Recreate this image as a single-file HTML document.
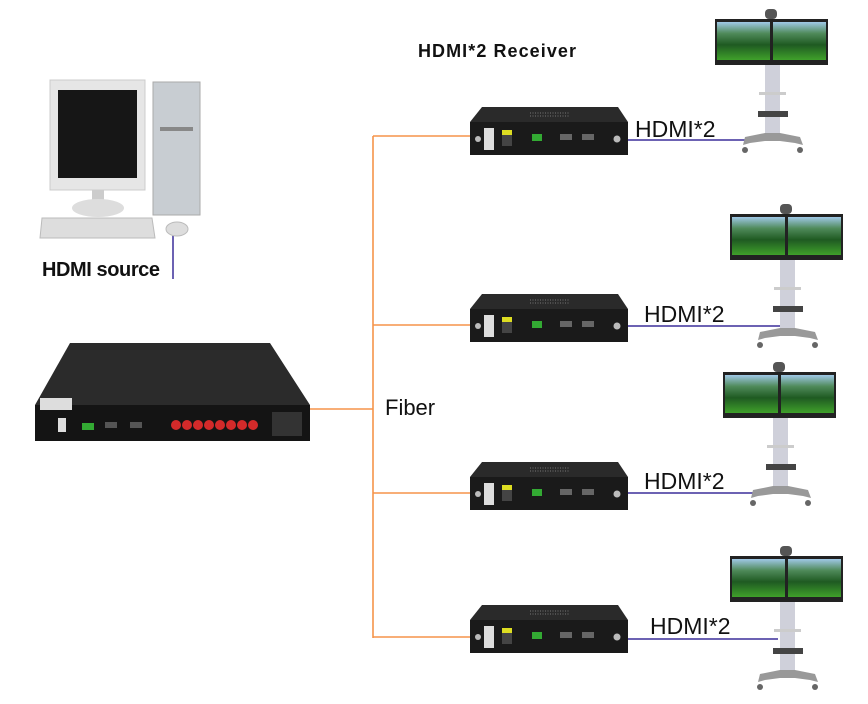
<!DOCTYPE html>
<html><head><meta charset="utf-8"><style>
html,body{margin:0;padding:0;background:#fff;}
svg{display:block}
text{font-family:"Liberation Sans",sans-serif;}
</style></head><body>
<svg width="868" height="704" viewBox="0 0 868 704" xmlns="http://www.w3.org/2000/svg">
<defs>
<linearGradient id="scr" x1="0" y1="0" x2="0" y2="1">
<stop offset="0" stop-color="#9fc8e6"/><stop offset="0.3" stop-color="#4f8a5a"/><stop offset="0.6" stop-color="#1f5a22"/><stop offset="1" stop-color="#3fa02a"/>
</linearGradient>
<g id="mon">
<rect x="50" y="-10" width="12" height="10" rx="4" fill="#555"/>
<rect x="50" y="46" width="15" height="76" fill="#cfd0da"/>
<rect x="44" y="73" width="27" height="3" fill="#ccc"/>
<rect x="43" y="92" width="30" height="6" fill="#444"/>
<path d="M30 118 L50 114 L65 114 L85 118 L88 126 L80 124 L65 122 L50 122 L35 124 L28 126Z" fill="#999"/>
<circle cx="30" cy="131" r="3" fill="#666"/><circle cx="85" cy="131" r="3" fill="#666"/>
<rect x="0" y="0" width="113" height="46" fill="#222"/>
<rect x="2" y="3" width="53" height="38" fill="url(#scr)"/>
<rect x="58" y="3" width="53" height="38" fill="url(#scr)"/>
</g>
<g id="rcv">
<path d="M12 0 L148 0 L158 15 L0 15Z" fill="#2a2a2a"/>
<g stroke="#777" stroke-width="1">
<path d="M60 6h40M60 9h40" stroke-dasharray="1 1.5"/></g>
<rect x="0" y="15" width="158" height="33" fill="#1a1a1a"/>
<rect x="14" y="21" width="10" height="22" fill="#ddd"/>
<circle cx="8" cy="32" r="3" fill="#bbb"/>
<rect x="32" y="23" width="10" height="16" fill="#444"/><rect x="32" y="23" width="10" height="5" fill="#dd2"/>
<rect x="62" y="27" width="10" height="7" fill="#3a3"/>
<rect x="90" y="27" width="12" height="6" fill="#666"/>
<rect x="112" y="27" width="12" height="6" fill="#666"/>
<circle cx="147" cy="32" r="3.5" fill="#bbb"/>
</g>
</defs>

<!-- connectors -->
<g stroke="#f5944a" stroke-width="1.6" fill="none">
<path d="M310 409 H373 M373 136 V638 M373 136 H470 M373 325 H470 M373 493 H470 M373 637 H470"/>
</g>
<g stroke="#3b2f9a" stroke-width="1.5" fill="none">
<path d="M628 140 H752 M628 326 H780 M628 493 H768 M628 639 H778 M173 228 V279"/>
</g>

<!-- PC -->
<rect x="50" y="80" width="95" height="110" fill="#e6e6e6" stroke="#ccc"/>
<rect x="58" y="90" width="79" height="88" fill="#161616"/>
<rect x="92" y="190" width="12" height="10" fill="#ccc"/>
<ellipse cx="98" cy="208" rx="26" ry="9" fill="#ddd"/>
<rect x="153" y="82" width="47" height="133" fill="#c8cdd2" stroke="#aaa"/>
<rect x="160" y="127" width="33" height="4" fill="#888"/>
<path d="M42 218 L152 218 L155 238 L40 238Z" fill="#ddd" stroke="#bbb"/>
<ellipse cx="177" cy="229" rx="11" ry="7" fill="#ddd" stroke="#bbb"/>
<text x="42" y="276" font-size="20" font-weight="bold" fill="#111" textLength="118">HDMI source</text>

<!-- main unit -->
<path d="M70 343 L270 343 L310 405 L35 405Z" fill="#2b2b2b"/>
<rect x="35" y="405" width="275" height="36" fill="#141414"/>
<rect x="40" y="398" width="32" height="12" fill="#ddd"/>
<g fill="#d42a2a"><circle cx="176" cy="425" r="5"/><circle cx="187" cy="425" r="5"/><circle cx="198" cy="425" r="5"/><circle cx="209" cy="425" r="5"/><circle cx="220" cy="425" r="5"/><circle cx="231" cy="425" r="5"/><circle cx="242" cy="425" r="5"/><circle cx="253" cy="425" r="5"/></g>
<rect x="272" y="412" width="30" height="24" fill="#333"/>
<rect x="58" y="418" width="8" height="14" fill="#ddd"/>
<rect x="82" y="423" width="12" height="7" fill="#3a3"/>
<rect x="105" y="422" width="12" height="6" fill="#555"/>
<rect x="130" y="422" width="12" height="6" fill="#555"/>

<text x="385" y="415" font-size="22" fill="#111">Fiber</text>
<text x="418" y="57" font-size="18" font-weight="bold" fill="#111" textLength="158">HDMI*2 Receiver</text>

<use href="#rcv" x="470" y="107"/>
<use href="#rcv" x="470" y="294"/>
<use href="#rcv" x="470" y="462"/>
<use href="#rcv" x="470" y="605"/>

<text x="635" y="137" font-size="23" fill="#111">HDMI*2</text>
<text x="644" y="322" font-size="23" fill="#111">HDMI*2</text>
<text x="644" y="489" font-size="23" fill="#111">HDMI*2</text>
<text x="650" y="634" font-size="23" fill="#111">HDMI*2</text>

<use href="#mon" x="715" y="19"/>
<use href="#mon" x="730" y="214"/>
<use href="#mon" x="723" y="372"/>
<use href="#mon" x="730" y="556"/>
</svg>
</body></html>
